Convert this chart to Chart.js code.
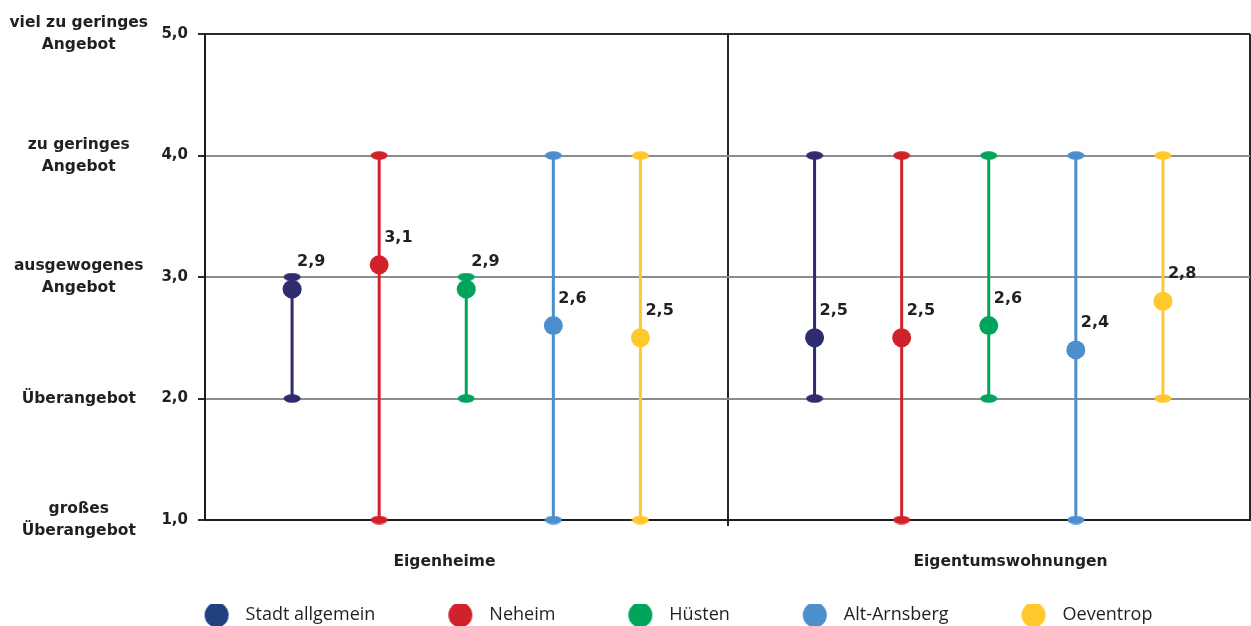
<!DOCTYPE html>
<html>
<head>
<meta charset="utf-8">
<title>Marktlage Wohneigentum</title>
<script src="https://cdn.jsdelivr.net/npm/chart.js@4.4.1/dist/chart.umd.min.js"></script>
<style>
  html, body { margin: 0; padding: 0; background: #ffffff; }
  #wrap { position: relative; width: 1251px; height: 626px; }
</style>
</head>
<body>
<div id="wrap"><canvas id="chart"></canvas></div>
<script>
// Groups and areas
const groups = ['Eigenheime', 'Eigentumswohnungen'];
const areas = ['Stadt allgemein', 'Neheim', 'Hüsten', 'Alt-Arnsberg', 'Oeventrop'];

// Average rating and answer span per area
const meanEigenheime = [2.9, 3.1, 2.9, 2.6, 2.5];
const minEigenheime = [2, 1, 2, 1, 1];
const maxEigenheime = [3, 4, 3, 4, 4];

const meanEigentum = [2.5, 2.5, 2.6, 2.4, 2.8];
const minEigentum = [2, 1, 2, 1, 2];
const maxEigentum = [4, 4, 4, 4, 4];

// Rating scale
const ratingValues = [1, 2, 3, 4, 5];
const ratingLabels = [
  ['großes', 'Überangebot'],
  'Überangebot',
  ['ausgewogenes', 'Angebot'],
  ['zu geringes', 'Angebot'],
  ['viel zu geringes', 'Angebot']
];

// Styling
const markColors = ['#2e2b6e', '#d1222b', '#00a45a', '#4b8fcd', '#ffc92d'];
const legendColors = ['#21407f', '#d1222b', '#00a45a', '#4b8fcd', '#ffc92d'];
const textColor = '#231f20';
const boldFont = 'DejaVu Sans';

const slotsPerGroup = areas.length + 1;
const slotX = (g, i) => g * slotsPerGroup + i + 1;
const xMax = groups.length * slotsPerGroup;
// where the group captions sit along the x axis
const groupCaptionAt = [2.75, 9.25];

const meansByGroup = [meanEigenheime, meanEigentum];
const minsByGroup = [minEigenheime, minEigentum];
const maxsByGroup = [maxEigenheime, maxEigentum];

// flat ellipse used as end cap of a span
function capImage(color) {
  const c = document.createElement('canvas');
  c.width = 18; c.height = 9;
  const g = c.getContext('2d');
  g.fillStyle = color;
  g.beginPath();
  g.ellipse(9, 4.5, 8.5, 4.2, 0, 0, Math.PI * 2);
  g.fill();
  return c;
}

// legend swatch: blank lead-in followed by a dot
const legendBox = 103;
function legendDot(color) {
  const c = document.createElement('canvas');
  c.width = legendBox; c.height = 26;
  const g = c.getContext('2d');
  g.fillStyle = color;
  g.beginPath();
  g.ellipse(legendBox - 20, 13, 12, 12.5, 0, 0, Math.PI * 2);
  g.fill();
  return c;
}

const meanSets = areas.map((name, i) => ({
  label: name,
  role: 'mean',
  type: 'line',
  showLine: false,
  clip: false,
  data: groups.map((_, g) => ({ x: slotX(g, i), y: meansByGroup[g][i] })),
  backgroundColor: markColors[i],
  borderColor: markColors[i],
  pointRadius: 9.5,
  pointHoverRadius: 9.5,
  pointBorderWidth: 0
}));

const spanSets = areas.map((name, i) => {
  const pts = [];
  groups.forEach((_, g) => {
    if (g > 0) pts.push({ x: g * slotsPerGroup, y: null });
    pts.push({ x: slotX(g, i), y: minsByGroup[g][i] });
    pts.push({ x: slotX(g, i), y: maxsByGroup[g][i] });
  });
  const cap = capImage(markColors[i]);
  return {
    label: name + ' Spanne',
    role: 'span',
    type: 'line',
    data: pts,
    clip: false,
    borderColor: markColors[i],
    backgroundColor: markColors[i],
    borderWidth: 3,
    spanGaps: false,
    pointStyle: cap,
    pointRadius: 5,
    pointHoverRadius: 5
  };
});

// prints each average above its dot
const valueLabels = {
  id: 'valueLabels',
  afterDatasetsDraw(chart) {
    const ctx = chart.ctx;
    ctx.save();
    ctx.font = 'bold 16px "' + boldFont + '"';
    ctx.fillStyle = textColor;
    ctx.textAlign = 'left';
    ctx.textBaseline = 'middle';
    chart.data.datasets.forEach((ds, di) => {
      if (ds.role !== 'mean') return;
      chart.getDatasetMeta(di).data.forEach((pt, j) => {
        const v = ds.data[j].y;
        ctx.fillText(v.toFixed(1).replace('.', ','), pt.x + 5, pt.y - 27);
      });
    });
    ctx.restore();
  }
};

const isEdge = v => v === 1 || v === 5;

new Chart(document.getElementById('chart'), {
  type: 'line',
  data: { datasets: [...meanSets, ...spanSets] },
  options: {
    responsive: true,
    maintainAspectRatio: false,
    animation: false,
    // the negative right inset only widens the legend row; the plot keeps 1px via the x axis padding
    layout: { autoPadding: false, padding: { top: 33, left: 8, right: -27, bottom: 0 } },
    scales: {
      x: {
        type: 'linear',
        min: 0,
        max: xMax,
        afterBuildTicks(scale) {
          const vals = [0, groupCaptionAt[0], slotsPerGroup, groupCaptionAt[1], xMax];
          scale.ticks = vals.map(v => ({ value: v }));
        },
        ticks: {
          autoSkip: false,
          maxRotation: 0,
          padding: 27,
          color: textColor,
          font: { family: boldFont, weight: 'bold', size: 15.5 },
          callback(v) {
            const k = groupCaptionAt.indexOf(v);
            return k >= 0 ? groups[k] : '';
          }
        },
        grid: {
          lineWidth: 2,
          tickLength: 6,
          color: c => (c.tick && (c.tick.value === slotsPerGroup || c.tick.value === xMax)) ? '#262626' : 'rgba(0,0,0,0)',
          tickColor: c => (c.tick && c.tick.value === slotsPerGroup) ? '#262626' : 'rgba(0,0,0,0)'
        },
        border: { display: true, color: '#1e1e1e', width: 2 },
        afterFit(scale) {
          scale.height = 84;
          scale.paddingLeft = 0;
          scale.paddingRight = 1;
        }
      },
      y: {
        type: 'linear',
        position: 'left',
        weight: 0,
        min: 1,
        max: 5,
        ticks: {
          stepSize: 1,
          padding: 10,
          color: textColor,
          font: { family: boldFont, weight: 'bold', size: 15 },
          callback: v => v.toFixed(1).replace('.', ',')
        },
        grid: {
          lineWidth: 2,
          tickLength: 7,
          color: c => isEdge(c.tick.value) ? '#2b2b2b' : '#8c8c8c',
          tickColor: '#2b2b2b'
        },
        border: { display: true, color: '#1a1a1a', width: 2 },
        afterFit(scale) { scale.width = 45; }
      },
      yText: {
        type: 'linear',
        position: 'left',
        weight: 1,
        min: 1,
        max: 5,
        afterBuildTicks(scale) {
          scale.ticks = ratingValues.map(v => ({ value: v }));
        },
        ticks: {
          autoSkip: false,
          padding: 12,
          crossAlign: 'center',
          color: textColor,
          font: { family: boldFont, weight: 'bold', size: 15.5, lineHeight: 1.42 },
          callback: v => ratingLabels[ratingValues.indexOf(v)]
        },
        grid: { display: false, drawTicks: false },
        border: { display: false },
        afterFit(scale) { scale.width = 152; }
      }
    },
    plugins: {
      tooltip: { enabled: false },
      legend: {
        position: 'bottom',
        align: 'center',
        maxHeight: 22,
        labels: {
          usePointStyle: true,
          pointStyleWidth: legendBox,
          boxHeight: 18,
          padding: 2,
          color: textColor,
          font: { family: 'Open Sans', size: 18 },
          generateLabels: () => areas.map((name, i) => ({
            text: name,
            pointStyle: legendDot(legendColors[i]),
            fillStyle: legendColors[i],
            strokeStyle: 'rgba(0,0,0,0)',
            lineWidth: 0,
            hidden: false,
            datasetIndex: i,
            fontColor: textColor
          }))
        }
      }
    }
  },
  plugins: [valueLabels]
});
</script>
</body>
</html>
